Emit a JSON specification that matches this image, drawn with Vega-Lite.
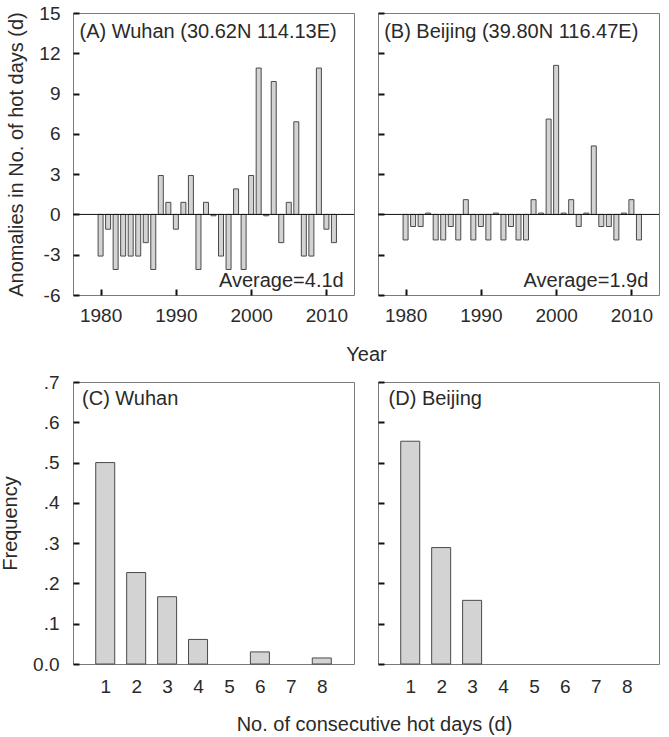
{
  "$schema": "https://vega.github.io/schema/vega-lite/v6.json",
  "background": "white",
  "padding": {"left": 0, "top": 3, "right": 4, "bottom": 4},
  "bounds": "flush",
  "columns": 2,
  "spacing": {"row": 87, "column": 24},
  "config": {
    "font": "Liberation Sans",
    "view": {"stroke": "#7a7a7a", "strokeWidth": 1},
    "axis": {
      "domain": false, "grid": false,
      "tickColor": "#111", "tickWidth": 2, "tickSize": -6,
      "labelFont": "Liberation Sans", "labelFontSize": 19, "labelColor": "#2a2a2a",
      "titleFont": "Liberation Sans", "titleFontSize": 20, "titleFontWeight": "normal", "titleColor": "#2a2a2a"
    },
    "text": {"font": "Liberation Sans", "fontSize": 20, "color": "#2a2a2a"}
  },
  "datasets": {
    "anom": [
      {"city": "Wuhan", "year": 1980, "value": -3.1}, {"city": "Wuhan", "year": 1981, "value": -1.1},
      {"city": "Wuhan", "year": 1982, "value": -4.1}, {"city": "Wuhan", "year": 1983, "value": -3.1},
      {"city": "Wuhan", "year": 1984, "value": -3.1}, {"city": "Wuhan", "year": 1985, "value": -3.1},
      {"city": "Wuhan", "year": 1986, "value": -2.1}, {"city": "Wuhan", "year": 1987, "value": -4.1},
      {"city": "Wuhan", "year": 1988, "value": 2.9}, {"city": "Wuhan", "year": 1989, "value": 0.9},
      {"city": "Wuhan", "year": 1990, "value": -1.1}, {"city": "Wuhan", "year": 1991, "value": 0.9},
      {"city": "Wuhan", "year": 1992, "value": 2.9}, {"city": "Wuhan", "year": 1993, "value": -4.1},
      {"city": "Wuhan", "year": 1994, "value": 0.9}, {"city": "Wuhan", "year": 1995, "value": -0.1},
      {"city": "Wuhan", "year": 1996, "value": -3.1}, {"city": "Wuhan", "year": 1997, "value": -4.1},
      {"city": "Wuhan", "year": 1998, "value": 1.9}, {"city": "Wuhan", "year": 1999, "value": -4.1},
      {"city": "Wuhan", "year": 2000, "value": 2.9}, {"city": "Wuhan", "year": 2001, "value": 10.9},
      {"city": "Wuhan", "year": 2002, "value": -0.1}, {"city": "Wuhan", "year": 2003, "value": 9.9},
      {"city": "Wuhan", "year": 2004, "value": -2.1}, {"city": "Wuhan", "year": 2005, "value": 0.9},
      {"city": "Wuhan", "year": 2006, "value": 6.9}, {"city": "Wuhan", "year": 2007, "value": -3.1},
      {"city": "Wuhan", "year": 2008, "value": -3.1}, {"city": "Wuhan", "year": 2009, "value": 10.9},
      {"city": "Wuhan", "year": 2010, "value": -1.1}, {"city": "Wuhan", "year": 2011, "value": -2.1},
      {"city": "Beijing", "year": 1980, "value": -1.9}, {"city": "Beijing", "year": 1981, "value": -0.9},
      {"city": "Beijing", "year": 1982, "value": -0.9}, {"city": "Beijing", "year": 1983, "value": 0.1},
      {"city": "Beijing", "year": 1984, "value": -1.9}, {"city": "Beijing", "year": 1985, "value": -1.9},
      {"city": "Beijing", "year": 1986, "value": -0.9}, {"city": "Beijing", "year": 1987, "value": -1.9},
      {"city": "Beijing", "year": 1988, "value": 1.1}, {"city": "Beijing", "year": 1989, "value": -1.9},
      {"city": "Beijing", "year": 1990, "value": -0.9}, {"city": "Beijing", "year": 1991, "value": -1.9},
      {"city": "Beijing", "year": 1992, "value": 0.1}, {"city": "Beijing", "year": 1993, "value": -1.9},
      {"city": "Beijing", "year": 1994, "value": -0.9}, {"city": "Beijing", "year": 1995, "value": -1.9},
      {"city": "Beijing", "year": 1996, "value": -1.9}, {"city": "Beijing", "year": 1997, "value": 1.1},
      {"city": "Beijing", "year": 1998, "value": 0.1}, {"city": "Beijing", "year": 1999, "value": 7.1},
      {"city": "Beijing", "year": 2000, "value": 11.1}, {"city": "Beijing", "year": 2001, "value": 0.1},
      {"city": "Beijing", "year": 2002, "value": 1.1}, {"city": "Beijing", "year": 2003, "value": -0.9},
      {"city": "Beijing", "year": 2004, "value": 0.1}, {"city": "Beijing", "year": 2005, "value": 5.1},
      {"city": "Beijing", "year": 2006, "value": -0.9}, {"city": "Beijing", "year": 2007, "value": -0.9},
      {"city": "Beijing", "year": 2008, "value": -1.9}, {"city": "Beijing", "year": 2009, "value": 0.1},
      {"city": "Beijing", "year": 2010, "value": 1.1}, {"city": "Beijing", "year": 2011, "value": -1.9}
    ],
    "freq": [
      {"city": "Wuhan", "days": 1, "freq": 0.5},
      {"city": "Wuhan", "days": 2, "freq": 0.227},
      {"city": "Wuhan", "days": 3, "freq": 0.167},
      {"city": "Wuhan", "days": 4, "freq": 0.061},
      {"city": "Wuhan", "days": 6, "freq": 0.03},
      {"city": "Wuhan", "days": 8, "freq": 0.015},
      {"city": "Beijing", "days": 1, "freq": 0.553},
      {"city": "Beijing", "days": 2, "freq": 0.289},
      {"city": "Beijing", "days": 3, "freq": 0.158}
    ]
  },
  "concat": [
    {
      "width": 281, "height": 282,
      "layer": [
        {
          "data": {"name": "anom"},
          "transform": [{"filter": "datum.city == 'Wuhan'"}],
          "mark": {"type": "bar", "size": 5, "fill": "#d3d3d3", "stroke": "#4a4a4a", "strokeWidth": 1},
          "encoding": {
            "x": {"field": "year", "type": "quantitative", "scale": {"domain": [1977, 2013], "nice": false, "zero": false},
                  "axis": {"values": [1980, 1990, 2000, 2010], "format": "d", "labelPadding": 17.5,
                           "title": "Year", "titleX": 293, "titleY": 65, "titleAlign": "center", "titleBaseline": "alphabetic"}},
            "y": {"field": "value", "type": "quantitative", "scale": {"domain": [-6, 15], "nice": false},
                  "axis": {"values": [-6, -3, 0, 3, 6, 9, 12, 15], "labelExpr": "toString(datum.value)", "labelPadding": 19,
                           "title": "Anomalies in No. of hot days (d)", "titlePadding": 12}},
            "y2": {"datum": 0}
          }
        },
        {"data": {"values": [{}]}, "mark": {"type": "rule", "color": "#111", "strokeWidth": 1}, "encoding": {"y": {"datum": 0}}},
        {"data": {"values": [{}]}, "mark": {"type": "text", "align": "left", "baseline": "alphabetic"},
         "encoding": {"x": {"datum": 1977.2}, "y": {"datum": 13.15}, "text": {"value": "(A) Wuhan (30.62N 114.13E)"}}},
        {"data": {"values": [{}]}, "mark": {"type": "text", "align": "right", "baseline": "alphabetic"},
         "encoding": {"x": {"datum": 2012.3}, "y": {"datum": -5.4}, "text": {"value": "Average=4.1d"}}}
      ]
    },
    {
      "width": 281, "height": 282,
      "layer": [
        {
          "data": {"name": "anom"},
          "transform": [{"filter": "datum.city == 'Beijing'"}],
          "mark": {"type": "bar", "size": 5, "fill": "#d3d3d3", "stroke": "#4a4a4a", "strokeWidth": 1},
          "encoding": {
            "x": {"field": "year", "type": "quantitative", "scale": {"domain": [1977, 2013], "nice": false, "zero": false},
                  "axis": {"values": [1980, 1990, 2000, 2010], "format": "d", "title": null, "labelPadding": 17.5}},
            "y": {"field": "value", "type": "quantitative", "scale": {"domain": [-6, 15], "nice": false},
                  "axis": {"values": [-6, -3, 0, 3, 6, 9, 12, 15], "labels": false, "title": null}},
            "y2": {"datum": 0}
          }
        },
        {"data": {"values": [{}]}, "mark": {"type": "rule", "color": "#111", "strokeWidth": 1}, "encoding": {"y": {"datum": 0}}},
        {"data": {"values": [{}]}, "mark": {"type": "text", "align": "left", "baseline": "alphabetic"},
         "encoding": {"x": {"datum": 1977.15}, "y": {"datum": 13.15}, "text": {"value": "(B) Beijing (39.80N 116.47E)"}}},
        {"data": {"values": [{}]}, "mark": {"type": "text", "align": "right", "baseline": "alphabetic"},
         "encoding": {"x": {"datum": 2012.25}, "y": {"datum": -5.4}, "text": {"value": "Average=1.9d"}}}
      ]
    },
    {
      "width": 281, "height": 282,
      "layer": [
        {
          "data": {"name": "freq"},
          "transform": [{"filter": "datum.city == 'Wuhan'"}],
          "mark": {"type": "bar", "size": 19, "fill": "#d3d3d3", "stroke": "#4a4a4a", "strokeWidth": 1},
          "encoding": {
            "x": {"field": "days", "type": "quantitative", "scale": {"domain": [0.12, 8.88], "nice": false, "zero": false},
                  "axis": {"values": [1, 2, 3, 4, 5, 6, 7, 8], "ticks": false, "labelPadding": 13,
                           "title": "No. of consecutive hot days (d)", "titleX": 301, "titleY": 66, "titleAlign": "center", "titleBaseline": "alphabetic"}},
            "y": {"field": "freq", "type": "quantitative", "scale": {"domain": [0, 0.7], "nice": false},
                  "axis": {"values": [0, 0.1, 0.2, 0.3, 0.4, 0.5, 0.6, 0.7],
                           "labelExpr": "datum.value == 0 ? '0.0' : replace(format(datum.value, '.1f'), '0.', '.')",
                           "labelPadding": 20, "title": "Frequency", "titlePadding": 12}},
            "y2": {"datum": 0}
          }
        },
        {"data": {"values": [{}]}, "mark": {"type": "text", "align": "left", "baseline": "alphabetic"},
         "encoding": {"x": {"datum": 0.25}, "y": {"datum": 0.643}, "text": {"value": "(C) Wuhan"}}}
      ]
    },
    {
      "width": 281, "height": 282,
      "layer": [
        {
          "data": {"name": "freq"},
          "transform": [{"filter": "datum.city == 'Beijing'"}],
          "mark": {"type": "bar", "size": 19, "fill": "#d3d3d3", "stroke": "#4a4a4a", "strokeWidth": 1},
          "encoding": {
            "x": {"field": "days", "type": "quantitative", "scale": {"domain": [0.12, 8.88], "nice": false, "zero": false},
                  "axis": {"values": [1, 2, 3, 4, 5, 6, 7, 8], "ticks": false, "title": null, "labelPadding": 13}},
            "y": {"field": "freq", "type": "quantitative", "scale": {"domain": [0, 0.7], "nice": false},
                  "axis": {"values": [0, 0.1, 0.2, 0.3, 0.4, 0.5, 0.6, 0.7], "labels": false, "title": null}},
            "y2": {"datum": 0}
          }
        },
        {"data": {"values": [{}]}, "mark": {"type": "text", "align": "left", "baseline": "alphabetic"},
         "encoding": {"x": {"datum": 0.3}, "y": {"datum": 0.643}, "text": {"value": "(D) Beijing"}}}
      ]
    }
  ]
}
